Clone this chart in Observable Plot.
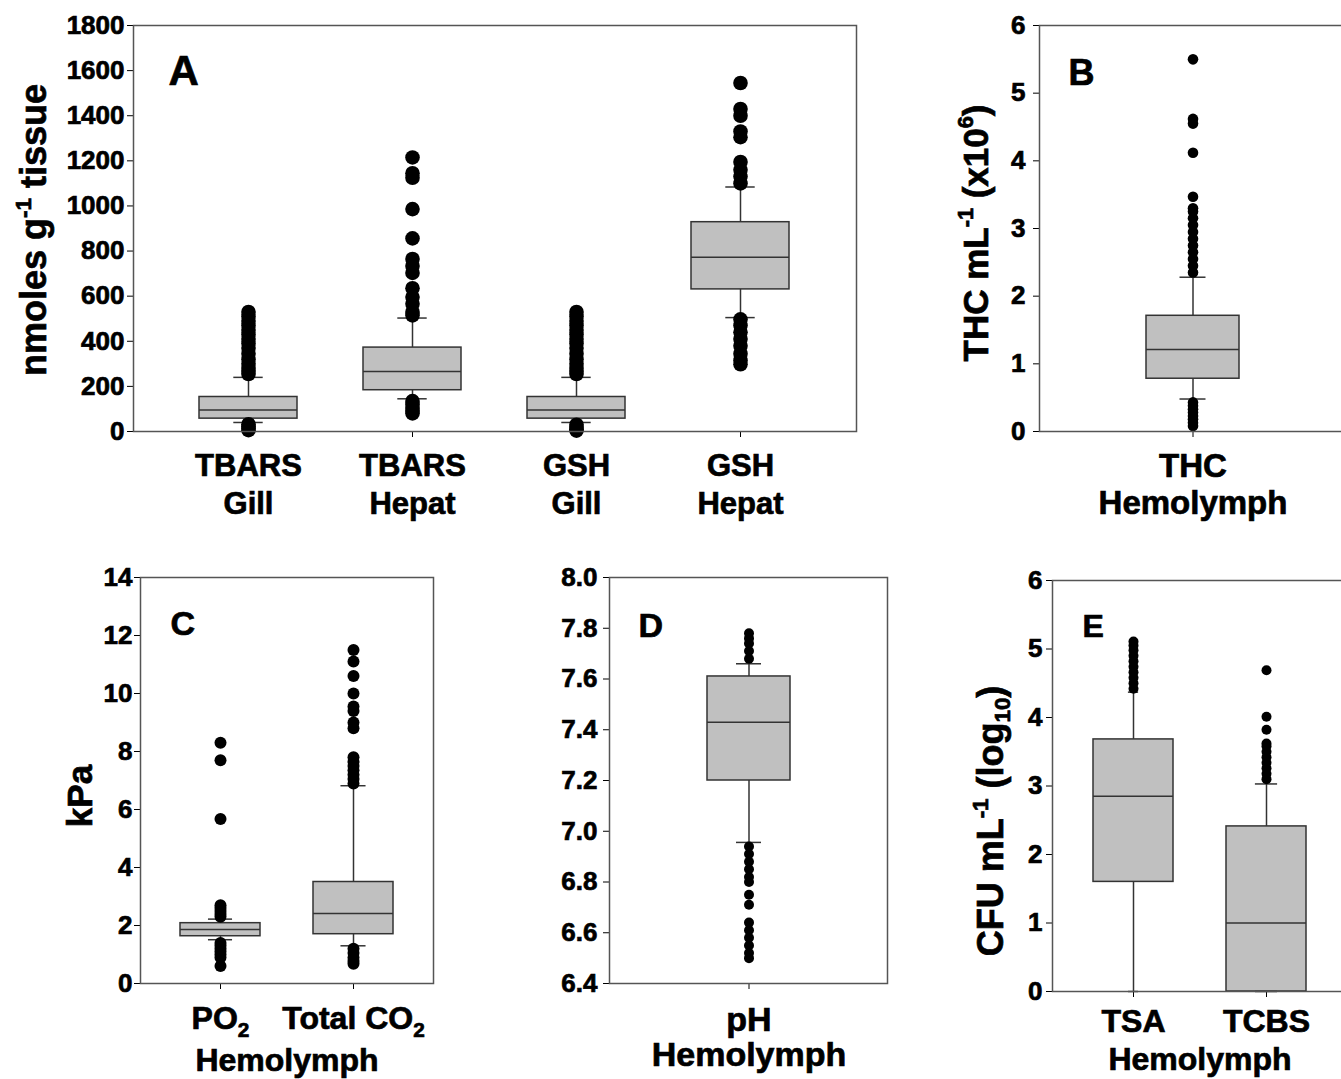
<!DOCTYPE html>
<html>
<head>
<meta charset="utf-8">
<script src="https://cdn.jsdelivr.net/npm/d3@7"></script>
<script src="https://cdn.jsdelivr.net/npm/@observablehq/plot@0.6"></script>
<style>
html, body { margin: 0; padding: 0; background: #fff; }
#fig { position: relative; width: 1341px; height: 1079px; overflow: hidden; background: #fff; }
#fig svg { position: absolute; overflow: visible; }
</style>
</head>
<body>
<div id="fig"></div>
<script>
// ===== Panel A : nmoles g-1 tissue =====
const catsA = ["TBARS\nGill", "TBARS\nHepat", "GSH\nGill", "GSH\nHepat"];
const q1A  = [57, 183, 57, 630];
const medA = [95, 266, 95, 772];
const q3A  = [153, 372, 153, 928];
const loA  = [40, 145, 40, 505];
const hiA  = [240, 503, 240, 1084];
const outTBARSGill  = [6, 14, 22, 32, 255, 268, 282, 300, 320, 345, 370, 390, 410, 430, 450, 470, 490, 510, 530];
const outTBARSHepat = [80, 92, 105, 120, 135, 515, 530, 566, 596, 635, 703, 734, 765, 856, 986, 1125, 1145, 1215];
const outGSHGill    = [4, 10, 20, 30, 255, 268, 282, 300, 320, 345, 370, 390, 410, 430, 450, 470, 490, 510, 530];
const outGSHHepat   = [298, 315, 345, 380, 410, 440, 470, 497, 1100, 1130, 1160, 1195, 1305, 1330, 1400, 1430, 1545];
const ticksA = [0, 200, 400, 600, 800, 1000, 1200, 1400, 1600, 1800];

// ===== Panel B : THC =====
const catsB = ["THC\nHemolymph"];
const q1B  = [0.78];
const medB = [1.21];
const q3B  = [1.71];
const loB  = [0.48];
const hiB  = [2.28];
const outTHC = [0.08, 0.13, 0.18, 0.23, 0.28, 0.33, 0.38, 0.43, 2.35, 2.45, 2.55, 2.65, 2.75, 2.85, 2.95, 3.05, 3.15, 3.25, 3.3, 3.47, 4.12, 4.55, 4.62, 5.5];
const ticksB = [0, 1, 2, 3, 4, 5, 6];

// ===== Panel C : kPa =====
const catsC = ["PO₂", "Total CO₂"];
const q1C  = [1.63, 1.70];
const medC = [1.86, 2.41];
const q3C  = [2.08, 3.50];
const loC  = [1.51, 1.30];
const hiC  = [2.22, 6.82];
const outPO2  = [0.6, 0.9, 1.0, 1.1, 1.2, 1.3, 1.4, 2.3, 2.4, 2.5, 2.6, 2.7, 5.67, 7.7, 8.3];
const outTCO2 = [0.68, 0.78, 0.9, 1.05, 1.2, 6.9, 7.05, 7.2, 7.35, 7.5, 7.65, 7.8, 8.8, 9.0, 9.4, 9.55, 10.0, 10.6, 11.1, 11.5];
const ticksC = [0, 2, 4, 6, 8, 10, 12, 14];

// ===== Panel D : pH =====
const catsD = ["pH\nHemolymph"];
const q1D  = [7.20];
const medD = [7.43];
const q3D  = [7.61];
const loD  = [6.956];
const hiD  = [7.66];
const outPH = [6.50, 6.52, 6.55, 6.58, 6.61, 6.64, 6.71, 6.75, 6.80, 6.82, 6.85, 6.88, 6.91, 6.94, 7.68, 7.71, 7.74, 7.76, 7.78];
const ticksD = [6.4, 6.6, 6.8, 7.0, 7.2, 7.4, 7.6, 7.8, 8.0];

// ===== Panel E : CFU =====
const catsE = ["TSA", "TCBS"];
const q1E  = [1.60, 0];
const medE = [2.85, 1.0];
const q3E  = [3.68, 2.41];
const loE  = [0, 0];
const hiE  = [4.37, 3.03];
const outTSA  = [4.42, 4.5, 4.58, 4.66, 4.74, 4.82, 4.9, 4.98, 5.05, 5.11];
const outTCBS = [3.1, 3.18, 3.26, 3.34, 3.42, 3.5, 3.58, 3.62, 3.82, 4.01, 4.69];
const ticksE = [0, 1, 2, 3, 4, 5, 6];

const FONT = '"Liberation Sans", Arial, Helvetica, sans-serif';
const BOX = "#c0c0c0";
const LINE = "#333333";
const FRAME = "#555555";

function boxPanel(o) {
  const n = o.cats.length;
  const rows = o.cats.map((c, i) => ({cat: c, q1: o.q1[i], med: o.med[i], q3: o.q3[i], lo: o.lo[i], hi: o.hi[i]}));
  const pts = o.cats.flatMap((c, i) => o.out[i].map(v => ({cat: c, v})));
  const W = o.width - o.ml - o.mr;
  const step = W / (n - 0.4 + 2 * o.po);
  const bw = 0.6 * step;
  const capMarks = rows.flatMap((r, i) => {
    const inset = (bw - o.caps[i]) / 2;
    return [
      Plot.tickY([r], {x: "cat", y: "hi", stroke: LINE, strokeWidth: 1.5, inset}),
      Plot.tickY([r], {x: "cat", y: "lo", stroke: LINE, strokeWidth: 1.5, inset})
    ];
  });
  const svg = Plot.plot({
    width: o.width, height: o.height,
    marginLeft: o.ml, marginRight: o.mr, marginTop: o.mt, marginBottom: o.mb,
    style: {fontFamily: FONT, color: "black", background: "transparent", overflow: "visible"},
    x: {type: "band", domain: o.cats, paddingInner: 0.4, paddingOuter: o.po},
    y: {domain: o.yDomain},
    marks: [
      Plot.axisY({ticks: o.yTicks, tickFormat: o.yFormat, tickSize: 6, tickPadding: o.ytp, fontSize: o.yfs, fontWeight: "bold", label: null}),
      Plot.axisX({tickSize: 6, tickPadding: o.xtp, fontSize: o.xfs, fontWeight: "bold", lineHeight: o.lh, label: null}),
      Plot.ruleX(rows, {x: "cat", y1: "q3", y2: "hi", stroke: LINE, strokeWidth: 1.5}),
      Plot.ruleX(rows, {x: "cat", y1: "lo", y2: "q1", stroke: LINE, strokeWidth: 1.5}),
      Plot.barY(rows, {x: "cat", y1: "q1", y2: "q3", fill: BOX, stroke: LINE, strokeWidth: 1.5}),
      Plot.tickY(rows, {x: "cat", y: "med", stroke: LINE, strokeWidth: 1.5}),
      ...capMarks,
      Plot.dot(pts, {x: "cat", y: "v", r: o.r, fill: "black"}),
      Plot.frame({stroke: FRAME, strokeWidth: 1.5}),
      Plot.text([o.letter], {frameAnchor: "top-left", dx: o.ldx, dy: o.ldy, textAnchor: "start", lineAnchor: "bottom", fontSize: o.lfs, fontWeight: "bold"}),
      ...(o.xlabel ? [Plot.text([o.xlabel], {frameAnchor: "bottom", dy: o.xldy, lineAnchor: "bottom", fontSize: o.xlfs, fontWeight: "bold"})] : [])
    ]
  });

  // subscript "2" in tick labels such as PO2 / Total CO2
  d3.select(svg).selectAll("text").each(function () {
    if (this.childElementCount === 0 && this.textContent.includes("₂")) {
      const parts = this.textContent.split("₂");
      this.textContent = "";
      const fs = o.xfs;
      parts.forEach((p, i) => {
        if (i > 0) {
          const s = document.createElementNS("http://www.w3.org/2000/svg", "tspan");
          s.setAttribute("dy", 0.25 * fs);
          s.setAttribute("font-size", 0.65 * fs);
          s.textContent = "2";
          this.appendChild(s);
        }
        if (p) {
          const s = document.createElementNS("http://www.w3.org/2000/svg", "tspan");
          if (i > 0) s.setAttribute("dy", -0.25 * fs);
          s.textContent = p;
          this.appendChild(s);
        }
      });
    }
  });

  // rotated y-axis title with super/subscripts
  if (o.title) {
    const fs = o.tfs;
    const t = d3.select(svg).append("text")
      .attr("transform", `translate(${o.tx},${o.ty}) rotate(-90)`)
      .attr("text-anchor", "middle")
      .attr("font-family", FONT)
      .attr("font-weight", "bold")
      .attr("font-size", fs)
      .attr("fill", "black");
    let shift = 0;
    for (const p of o.title) {
      const target = p.sup ? -0.42 * fs : p.sub ? 0.2 * fs : 0;
      const s = t.append("tspan").text(p.t).attr("dy", target - shift);
      if (p.sup || p.sub) s.attr("font-size", 0.62 * fs);
      shift = target;
    }
  }
  // heavier strokes, like the reference's very bold lettering
  d3.select(svg).selectAll("text").attr("stroke", "black").attr("stroke-width", 0.7);

  svg.style.left = o.left + "px";
  svg.style.top = o.top + "px";
  document.getElementById("fig").appendChild(svg);
}

// Panel A
boxPanel({
  left: 0, top: 0, width: 880, height: 530, ml: 133, mr: 24, mt: 25, mb: 99, po: 0.4,
  cats: catsA, q1: q1A, med: medA, q3: q3A, lo: loA, hi: hiA,
  out: [outTBARSGill, outTBARSHepat, outGSHGill, outGSHHepat],
  yDomain: [0, 1800], yTicks: ticksA, yFormat: d => String(d),
  caps: [30, 30, 30, 30], r: 7.3, yfs: 26, ytp: 3, xfs: 31, xtp: 12, lh: 1.21,
  letter: "A", ldx: 35, ldy: 59, lfs: 42,
  title: [{t: "nmoles g"}, {t: "-1", sup: true}, {t: " tissue"}], tx: 46, ty: 230, tfs: 36
});

// Panel B
boxPanel({
  left: 900, top: 0, width: 460, height: 530, ml: 139, mr: 15, mt: 25, mb: 99, po: 0.687,
  cats: catsB, q1: q1B, med: medB, q3: q3B, lo: loB, hi: hiB,
  out: [outTHC],
  yDomain: [0, 6], yTicks: ticksB, yFormat: d => String(d),
  caps: [26], r: 5.3, yfs: 26, ytp: 8, xfs: 33, xtp: 14, lh: 1.1,
  letter: "B", ldx: 29, ldy: 59, lfs: 36,
  title: [{t: "THC mL"}, {t: "-1", sup: true}, {t: " (x10"}, {t: "6", sup: true}, {t: ")"}], tx: 88, ty: 233, tfs: 35
});

// Panel C
boxPanel({
  left: 0, top: 540, width: 450, height: 539, ml: 140, mr: 17, mt: 37, mb: 96, po: 0.30,
  cats: catsC, q1: q1C, med: medC, q3: q3C, lo: loC, hi: hiC,
  out: [outPO2, outTCO2],
  yDomain: [0, 14], yTicks: ticksC, yFormat: d => String(d),
  caps: [24, 25], r: 6, yfs: 26, ytp: 2, xfs: 32, xtp: 17, lh: 1,
  letter: "C", ldx: 30, ldy: 57, lfs: 34,
  xlabel: "Hemolymph", xldy: 87, xlfs: 32,
  title: [{t: "kPa"}], tx: 92, ty: 256, tfs: 35
});

// Panel D
boxPanel({
  left: 450, top: 540, width: 450, height: 539, ml: 159, mr: 13, mt: 37, mb: 96, po: 0.705,
  cats: catsD, q1: q1D, med: medD, q3: q3D, lo: loD, hi: hiD,
  out: [outPH],
  yDomain: [6.4, 8.0], yTicks: ticksD, yFormat: d => d.toFixed(1),
  caps: [25], r: 5, yfs: 26, ytp: 6, xfs: 34, xtp: 17, lh: 1.03,
  letter: "D", ldx: 29, ldy: 59, lfs: 34
});

// Panel E
boxPanel({
  left: 900, top: 540, width: 460, height: 539, ml: 152, mr: 13, mt: 40, mb: 88, po: 0.309,
  cats: catsE, q1: q1E, med: medE, q3: q3E, lo: loE, hi: hiE,
  out: [outTSA, outTCBS],
  yDomain: [0, 6], yTicks: ticksE, yFormat: d => String(d),
  caps: [10, 22], r: 5, yfs: 26, ytp: 4, xfs: 32, xtp: 12, lh: 1,
  letter: "E", ldx: 30, ldy: 56, lfs: 32,
  xlabel: "Hemolymph", xldy: 78, xlfs: 32,
  title: [{t: "CFU mL"}, {t: "-1", sup: true}, {t: " (log"}, {t: "10", sub: true}, {t: ")"}], tx: 103, ty: 281, tfs: 36
});
</script>
</body>
</html>
